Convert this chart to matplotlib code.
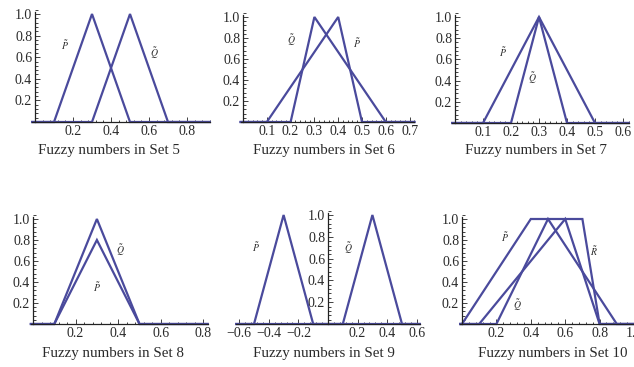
import numpy as np
import matplotlib
matplotlib.use("Agg")
import matplotlib.pyplot as plt
from matplotlib.ticker import MultipleLocator, FixedLocator

plt.rcParams['font.family'] = ['Liberation Serif', 'DejaVu Serif']
plt.rcParams['mathtext.fontset'] = 'stix'

# trapezoidal fuzzy numbers (a, b, c, d, height) per set
set5_P = [0.1, 0.3, 0.3, 0.5, 1.0]
set5_Q = [0.3, 0.5, 0.5, 0.7, 1.0]
set6_P = [0.1, 0.4, 0.4, 0.5, 1.0]
set6_Q = [0.2, 0.3, 0.3, 0.6, 1.0]
set7_P = [0.1, 0.3, 0.3, 0.5, 1.0]
set7_Q = [0.2, 0.3, 0.3, 0.4, 1.0]
set8_P = [0.1, 0.3, 0.3, 0.5, 0.8]
set8_Q = [0.1, 0.3, 0.3, 0.5, 1.0]
set9_P = [-0.5, -0.3, -0.3, -0.1, 1.0]
set9_Q = [0.1, 0.3, 0.3, 0.5, 1.0]
set10_P = [0.0, 0.4, 0.7, 0.8, 1.0]
set10_Q = [0.2, 0.5, 0.5, 0.9, 1.0]
set10_R = [0.1, 0.6, 0.6, 0.8, 1.0]

titles = ["Fuzzy numbers in Set 5", "Fuzzy numbers in Set 6", "Fuzzy numbers in Set 7",
          "Fuzzy numbers in Set 8", "Fuzzy numbers in Set 9", "Fuzzy numbers in Set 10"]

LINE = '#4a4a9c'
TXT = '#2a2a2a'
W, H = 634, 367


def trap_xy(fn, xmin, xmax):
    a, b, c, d, h = fn
    xs = [xmin, a, b, c, d, xmax]
    ys = [0, 0, h, h, 0, 0]
    return xs, ys


def make_ax(fig, ox, oy, sx, sy, xlim, ylim):
    # ox, oy: pixel position of data origin; sx, sy: pixels per unit
    left = ox + xlim[0] * sx
    right = ox + xlim[1] * sx
    bottom = oy - ylim[0] * sy
    top = oy - ylim[1] * sy
    ax = fig.add_axes([left / W, 1 - bottom / H, (right - left) / W, (bottom - top) / H])
    ax.set_xlim(*xlim)
    ax.set_ylim(*ylim)
    ax.patch.set_alpha(0)
    for s in ['top', 'right']:
        ax.spines[s].set_visible(False)
    ax.spines['left'].set_position(('data', 0))
    ax.spines['bottom'].set_position(('data', 0))
    ax.spines['left'].set_bounds(0, 1.02)
    for s in ['left', 'bottom']:
        ax.spines[s].set_linewidth(0.9)
        ax.spines[s].set_color('#222222')
    ax.yaxis.set_major_locator(FixedLocator([0.2, 0.4, 0.6, 0.8, 1.0]))
    ax.yaxis.set_minor_locator(MultipleLocator(0.04))
    ax.tick_params(which='both', direction='in', color='#222222', width=0.6,
                   labelsize=10, labelcolor=TXT, pad=2)
    ax.tick_params(which='major', length=3.5)
    ax.tick_params(which='minor', length=1.8)
    ax.yaxis.set_major_formatter(plt.FuncFormatter(lambda v, p: f"{v:.1f}"))
    ax.xaxis.set_major_formatter(plt.FuncFormatter(lambda v, p: f"{v:.1f}".replace('-', '\u2212')))
    return ax


fig = plt.figure(figsize=(6.34, 3.67), dpi=100)

panels = [
    dict(pos=(35, 122, 190, 108), xlim=(-0.015, 0.92), major=0.2,
         fns=[set5_P, set5_Q], labels=[('P', 0.16, 0.71), ('Q', 0.63, 0.64)],
         title=(38, 150)),
    dict(pos=(243, 122, 238, 105), xlim=(-0.01, 0.72), major=0.1,
         fns=[set6_P, set6_Q], labels=[('Q', 0.205, 0.78), ('P', 0.48, 0.75)],
         title=(253, 150)),
    dict(pos=(455, 123, 280, 106), xlim=(-0.01, 0.62), major=0.1,
         fns=[set7_P, set7_Q], labels=[('P', 0.17, 0.67), ('Q', 0.275, 0.42)],
         title=(465, 150)),
    dict(pos=(33, 324, 213, 105), xlim=(-0.01, 0.82), major=0.2,
         fns=[set8_P, set8_Q], labels=[('Q', 0.41, 0.70), ('P', 0.30, 0.35)],
         title=(42, 353)),
    dict(pos=(328, 324, 148, 109), xlim=(-0.62, 0.62), major=0.2,
         fns=[set9_P, set9_Q], labels=[('P', -0.49, 0.71), ('Q', 0.135, 0.70)],
         title=(253, 353)),
    dict(pos=(462, 324, 172, 105), xlim=(-0.01, 1.02), major=0.2,
         fns=[set10_P, set10_Q, set10_R], labels=[('P', 0.25, 0.83), ('R', 0.765, 0.69), ('Q', 0.32, 0.18)],
         title=(478, 353)),
]

for p, title in zip(panels, titles):
    ox, oy, sx, sy = p['pos']
    ax = make_ax(fig, ox, oy, sx, sy, p['xlim'], (-0.01, 1.04))
    m = p['major']
    ticks = [t for t in np.arange(-1.0, 1.01, m) if abs(t) > 1e-9 and p['xlim'][0] <= t <= p['xlim'][1] + 0.005]
    ax.xaxis.set_major_locator(FixedLocator(ticks))
    ax.xaxis.set_minor_locator(MultipleLocator(m / 5))
    for fn in p['fns']:
        xs, ys = trap_xy(fn, p['xlim'][0], p['xlim'][1])
        ax.plot(xs, ys, color=LINE, lw=1.6, clip_on=False, solid_joinstyle='miter')
    for name, lx, ly in p['labels']:
        ax.text(lx, ly, r'$\tilde{%s}$' % name, fontsize=7, color=TXT, ha='center', va='center')
    tx, ty = p['title']
    fig.text(tx / W, 1 - ty / H, title, fontsize=10.8, color=TXT, ha='left', va='center')

fig.savefig('out.png', dpi=100)
